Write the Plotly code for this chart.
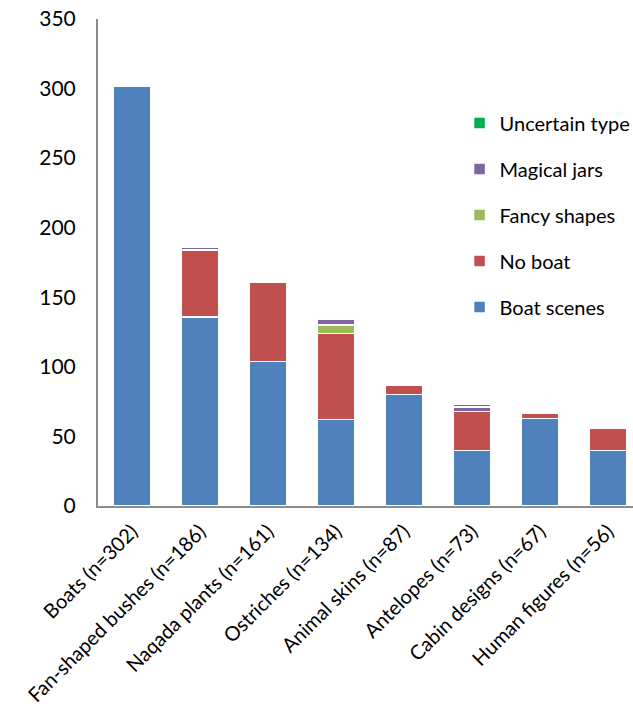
import plotly.graph_objects as go

# Motif categories with their total counts
categories = [
    "Boats (n=302)",
    "Fan-shaped bushes (n=186)",
    "Naqada plants (n=161)",
    "Ostriches (n=134)",
    "Animal skins (n=87)",
    "Antelopes (n=73)",
    "Cabin designs (n=67)",
    "Human figures (n=56)",
]

# Context counts per category
boat_scenes = [302, 136, 104, 62, 80, 40, 63, 40]
no_boat = [0, 48, 57, 62, 7, 28, 4, 16]
fancy_shapes = [0, 0, 0, 6, 0, 0, 0, 0]
magical_jars = [0, 2, 0, 4, 0, 3, 0, 0]
uncertain_type = [0, 0, 0, 0, 0, 2, 0, 0]

y_ticks = [0, 50, 100, 150, 200, 250, 300, 350]

series = [
    ("Boat scenes", boat_scenes, "#4F81BD"),
    ("No boat", no_boat, "#C0504D"),
    ("Fancy shapes", fancy_shapes, "#9BBB59"),
    ("Magical jars", magical_jars, "#8064A2"),
    ("Uncertain type", uncertain_type, "#00B050"),
]

FONT = "Lato, Carlito, 'Open Sans', sans-serif"

fig = go.Figure()
n = len(series)
for i, (name, vals, color) in enumerate(series):
    fig.add_trace(go.Bar(
        x=categories,
        y=vals,
        name=name,
        legendgroup=name,
        legendrank=1000 + (n - i),  # top of the stack listed first
        marker=dict(color=color, line=dict(color="white", width=1.5)),
        width=0.56,
    ))

fig.update_layout(
    barmode="stack",
    width=633,
    height=718,
    margin=dict(l=98, r=0, t=19, b=212, autoexpand=False),
    paper_bgcolor="white",
    plot_bgcolor="white",
    font=dict(family=FONT, size=21, color="#000000"),
    showlegend=True,
    legend=dict(
        xref="container", yref="container",
        x=0.726, y=0.856, xanchor="left", yanchor="top",
        traceorder="grouped",
        tracegroupgap=17,
        font=dict(family=FONT, size=20, color="#000000"),
        bgcolor="rgba(0,0,0,0)",
        itemwidth=30,
    ),
    bargap=0.44,
)

fig.update_xaxes(
    range=[-0.5, 7.37],
    tickangle=-45,
    showline=True, linecolor="#8c8c8c", linewidth=2,
    showgrid=False, ticks="",
    tickfont=dict(family=FONT, size=20),
    ticklabelstandoff=4,
    automargin=False,
)
fig.update_yaxes(
    range=[0, 350],
    tickvals=y_ticks,
    showline=True, linecolor="#8c8c8c", linewidth=2,
    showgrid=False, zeroline=False, ticks="",
    ticklabelstandoff=16,
    tickfont=dict(family=FONT, size=21),
    automargin=False,
)

fig.write_html("out.html")
